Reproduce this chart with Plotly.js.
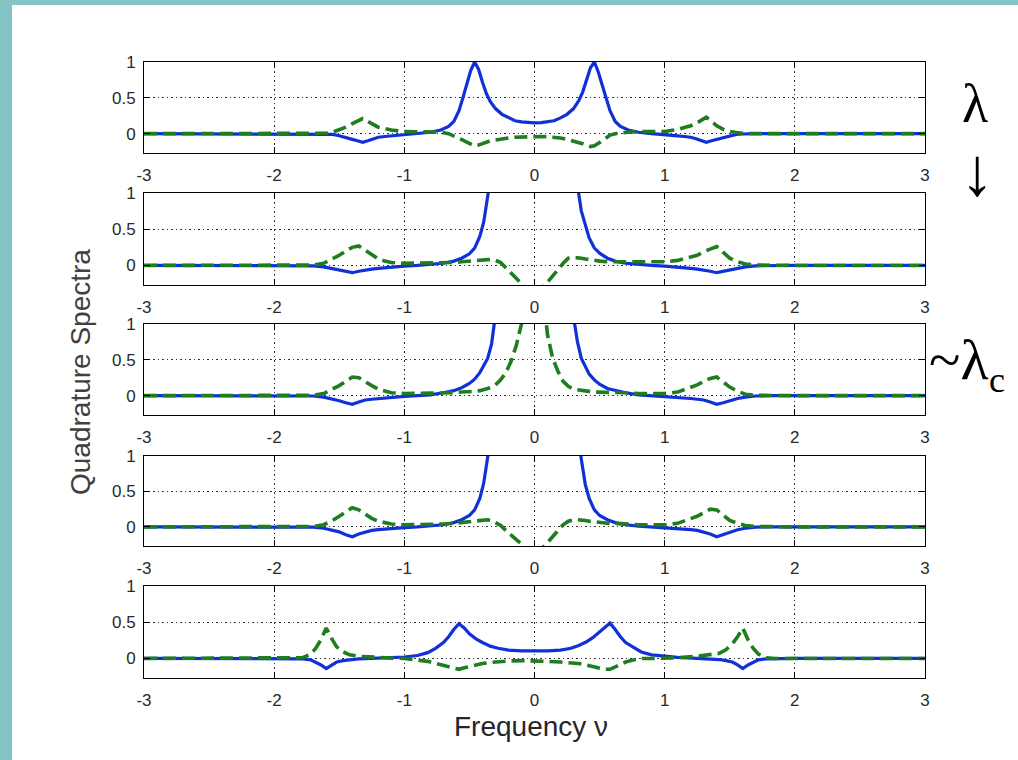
<!DOCTYPE html>
<html>
<head>
<meta charset="utf-8">
<script src="https://cdn.plot.ly/plotly-3.0.1.min.js"></script>
<style>
  html, body { margin: 0; padding: 0; background: #ffffff; }
  #chart { width: 1018px; height: 760px; }
</style>
</head>
<body>
<div id="chart"></div>
<script>
// ---------------- DATA ----------------
const xTickVals = [-3, -2, -1, 0, 1, 2, 3];
const xTickText = ["-3", "-2", "-1", "0", "1", "2", "3"];
const yTickVals = [0, 0.5, 1];
const yTickText = ["0", "0.5", "1"];

// Panel 1 (top)
const freq1 = [-3, -2.5, -2, -1.7, -1.6, -1.55, -1.5, -1.45, -1.4, -1.36, -1.32, -1.28, -1.24, -1.2, -1.15, -1.1, -1.0, -0.9, -0.8, -0.72, -0.66, -0.62, -0.58, -0.55, -0.52, -0.49, -0.46, -0.43, -0.40, -0.37, -0.34, -0.30, -0.25, -0.20, -0.15, -0.10, -0.05,
  0,
  0.05, 0.10, 0.15, 0.20, 0.25, 0.30, 0.34, 0.37, 0.40, 0.43, 0.46, 0.49, 0.52, 0.55, 0.58, 0.62, 0.66, 0.72, 0.8, 0.9, 1.0, 1.1, 1.15, 1.2, 1.24, 1.28, 1.32, 1.36, 1.4, 1.45, 1.5, 1.55, 1.6, 1.7, 2, 2.5, 3];
const blue1 = [0, 0, 0, 0, -0.005, -0.01, -0.03, -0.05, -0.08, -0.10, -0.12, -0.10, -0.07, -0.05, -0.04, -0.03, -0.01, 0.0, 0.02, 0.05, 0.10, 0.17, 0.32, 0.50, 0.70, 0.88, 1.0, 0.90, 0.72, 0.56, 0.45, 0.35, 0.27, 0.22, 0.18, 0.165, 0.155,
  0.15,
  0.155, 0.165, 0.18, 0.22, 0.27, 0.35, 0.46, 0.58, 0.75, 0.92, 1.0, 0.86, 0.68, 0.48, 0.32, 0.17, 0.10, 0.05, 0.02, 0.0, -0.01, -0.03, -0.04, -0.05, -0.07, -0.10, -0.12, -0.10, -0.08, -0.05, -0.03, -0.01, -0.005, 0, 0, 0, 0];
const green1 = [0, 0, 0, 0, 0.005, 0.02, 0.05, 0.09, 0.14, 0.18, 0.21, 0.17, 0.13, 0.09, 0.07, 0.05, 0.03, 0.03, 0.03, 0.02, 0.0, -0.03, -0.06, -0.09, -0.12, -0.15, -0.17, -0.16, -0.14, -0.12, -0.10, -0.09, -0.07, -0.06, -0.05, -0.045, -0.04,
  -0.04,
  -0.04, -0.045, -0.05, -0.06, -0.08, -0.10, -0.12, -0.14, -0.16, -0.18, -0.17, -0.14, -0.10, -0.06, -0.02, 0.0, 0.01, 0.02, 0.03, 0.03, 0.03, 0.06, 0.08, 0.11, 0.14, 0.18, 0.23, 0.17, 0.11, 0.06, 0.03, 0.015, 0.005, 0, 0, 0, 0];

// Panels 2-4 share one frequency grid
const freqMid = [-3, -2.5, -2, -1.8, -1.7, -1.62, -1.56, -1.5, -1.45, -1.4, -1.35, -1.3, -1.25, -1.2, -1.15, -1.1, -1.0, -0.9, -0.8, -0.7, -0.62, -0.56, -0.5, -0.46, -0.42, -0.39, -0.36, -0.33, -0.30, -0.26, -0.22, -0.18, -0.14, -0.10, -0.06, -0.03,
  0,
  0.03, 0.06, 0.10, 0.14, 0.18, 0.22, 0.26, 0.30, 0.33, 0.36, 0.39, 0.42, 0.46, 0.5, 0.56, 0.62, 0.7, 0.8, 0.9, 1.0, 1.1, 1.15, 1.2, 1.25, 1.3, 1.35, 1.4, 1.45, 1.5, 1.56, 1.62, 1.7, 1.8, 2, 2.5, 3];

// Panel 2
const blue2 = [0, 0, 0, 0, -0.005, -0.02, -0.04, -0.06, -0.08, -0.10, -0.08, -0.06, -0.05, -0.04, -0.03, -0.02, -0.01, 0.0, 0.01, 0.03, 0.06, 0.10, 0.16, 0.24, 0.40, 0.60, 0.95, 1.4, 2.0, 3.0, 4.0, 5.0, 5.5, 6, 6, 6,
  6,
  6, 6, 6, 5.5, 5.0, 4.0, 3.0, 2.0, 1.1, 0.75, 0.55, 0.38, 0.24, 0.17, 0.10, 0.06, 0.03, 0.01, 0.0, -0.01, -0.02, -0.03, -0.04, -0.05, -0.06, -0.08, -0.10, -0.08, -0.06, -0.04, -0.02, -0.005, 0, 0, 0, 0];
const green2 = [0, 0, 0, 0, 0.005, 0.03, 0.08, 0.14, 0.20, 0.25, 0.27, 0.21, 0.15, 0.09, 0.06, 0.04, 0.03, 0.03, 0.03, 0.04, 0.04, 0.05, 0.06, 0.07, 0.08, 0.08, 0.08, 0.08, 0.07, 0.04, -0.03, -0.10, -0.17, -0.23, -0.30, -0.38,
  -0.45,
  -0.38, -0.30, -0.23, -0.15, -0.06, 0.03, 0.10, 0.11, 0.11, 0.10, 0.09, 0.08, 0.07, 0.06, 0.05, 0.05, 0.05, 0.05, 0.05, 0.05, 0.07, 0.09, 0.11, 0.14, 0.19, 0.23, 0.26, 0.18, 0.10, 0.05, 0.02, 0.005, 0, 0, 0, 0];

// Panel 3 (~ lambda_c)
const blue3 = [0, 0, 0, 0, -0.005, -0.02, -0.04, -0.07, -0.10, -0.12, -0.09, -0.06, -0.05, -0.04, -0.03, -0.02, -0.01, 0.0, 0.01, 0.04, 0.07, 0.11, 0.17, 0.23, 0.32, 0.42, 0.52, 0.72, 1.1, 1.8, 3.0, 4.0, 5.0, 5.5, 6, 6,
  6,
  6, 6, 5.5, 5.0, 4.0, 3.0, 1.8, 1.1, 0.75, 0.52, 0.40, 0.30, 0.22, 0.16, 0.10, 0.07, 0.04, 0.01, 0.0, -0.01, -0.02, -0.03, -0.04, -0.05, -0.06, -0.09, -0.12, -0.10, -0.07, -0.04, -0.02, -0.005, 0, 0, 0, 0];
const green3 = [0, 0, 0, 0, 0.005, 0.03, 0.08, 0.14, 0.20, 0.26, 0.25, 0.19, 0.14, 0.09, 0.06, 0.04, 0.03, 0.03, 0.03, 0.04, 0.04, 0.05, 0.05, 0.06, 0.07, 0.08, 0.10, 0.12, 0.15, 0.22, 0.32, 0.48, 0.70, 1.0, 1.5, 2.2,
  2.5,
  2.2, 1.5, 0.85, 0.52, 0.34, 0.20, 0.13, 0.09, 0.08, 0.07, 0.06, 0.06, 0.05, 0.05, 0.04, 0.04, 0.04, 0.03, 0.03, 0.03, 0.05, 0.08, 0.11, 0.15, 0.20, 0.24, 0.26, 0.19, 0.12, 0.06, 0.02, 0.005, 0, 0, 0, 0];

// Panel 4
const blue4 = [0, 0, 0, 0, -0.005, -0.02, -0.04, -0.07, -0.11, -0.14, -0.10, -0.07, -0.05, -0.04, -0.03, -0.02, -0.01, 0.0, 0.01, 0.03, 0.06, 0.10, 0.16, 0.24, 0.40, 0.62, 0.98, 1.4, 2.0, 3.0, 4.0, 5.0, 5.5, 6, 6, 6,
  6,
  6, 6, 6, 5.5, 5.0, 4.0, 3.0, 2.0, 1.4, 0.95, 0.60, 0.40, 0.24, 0.16, 0.10, 0.06, 0.03, 0.01, 0.0, -0.01, -0.02, -0.03, -0.04, -0.05, -0.07, -0.10, -0.14, -0.11, -0.07, -0.04, -0.02, -0.005, 0, 0, 0, 0];
const green4 = [0, 0, 0, 0, 0.005, 0.03, 0.08, 0.15, 0.21, 0.27, 0.24, 0.18, 0.12, 0.08, 0.06, 0.04, 0.03, 0.03, 0.03, 0.04, 0.05, 0.06, 0.07, 0.08, 0.09, 0.10, 0.10, 0.09, 0.06, 0.02, -0.05, -0.12, -0.18, -0.24, -0.31, -0.38,
  -0.45,
  -0.38, -0.30, -0.22, -0.14, -0.06, 0.03, 0.08, 0.10, 0.10, 0.10, 0.09, 0.08, 0.07, 0.06, 0.05, 0.05, 0.04, 0.03, 0.03, 0.03, 0.05, 0.08, 0.11, 0.15, 0.20, 0.25, 0.24, 0.16, 0.09, 0.05, 0.02, 0.005, 0, 0, 0, 0];

// Panel 5 (bottom)
const freq5 = [-3, -2.5, -2, -1.85, -1.78, -1.72, -1.68, -1.64, -1.6, -1.56, -1.52, -1.47, -1.42, -1.35, -1.25, -1.1, -1.0, -0.9, -0.82, -0.76, -0.7, -0.66, -0.62, -0.58, -0.54, -0.5, -0.45, -0.4, -0.34, -0.28, -0.2, -0.1,
  0,
  0.1, 0.2, 0.28, 0.34, 0.4, 0.45, 0.5, 0.54, 0.58, 0.62, 0.66, 0.7, 0.76, 0.82, 0.9, 1.0, 1.1, 1.25, 1.35, 1.42, 1.47, 1.52, 1.56, 1.6, 1.64, 1.68, 1.72, 1.78, 1.85, 2, 2.5, 3];
const blue5 = [0, 0, 0, 0, -0.005, -0.02, -0.05, -0.09, -0.14, -0.09, -0.05, -0.03, -0.015, -0.005, 0.0, 0.01, 0.02, 0.04, 0.08, 0.14, 0.22, 0.30, 0.40, 0.48, 0.42, 0.34, 0.27, 0.22, 0.17, 0.14, 0.115, 0.105,
  0.10,
  0.105, 0.115, 0.14, 0.18, 0.23, 0.29, 0.37, 0.44, 0.49, 0.40, 0.30, 0.22, 0.15, 0.09, 0.05, 0.03, 0.015, 0.0, -0.005, -0.015, -0.03, -0.05, -0.09, -0.14, -0.09, -0.05, -0.02, -0.005, 0, 0, 0, 0];
const green5 = [0, 0, 0, 0, 0.01, 0.06, 0.14, 0.26, 0.42, 0.28, 0.16, 0.09, 0.05, 0.03, 0.015, 0.005, 0.0, -0.02, -0.04, -0.07, -0.10, -0.12, -0.14, -0.15, -0.13, -0.11, -0.09, -0.07, -0.055, -0.045, -0.035, -0.03,
  -0.03,
  -0.04, -0.05, -0.06, -0.07, -0.09, -0.11, -0.13, -0.15, -0.15, -0.12, -0.08, -0.05, -0.02, 0.0, 0.0, 0.0, 0.01, 0.03, 0.05, 0.07, 0.12, 0.20, 0.30, 0.42, 0.26, 0.14, 0.06, 0.01, 0, 0, 0, 0];

const panels = [
  {x: freq1, blue: blue1, green: green1},
  {x: freqMid, blue: blue2, green: green2},
  {x: freqMid, blue: blue3, green: green3},
  {x: freqMid, blue: blue4, green: green4},
  {x: freq5, blue: blue5, green: green5}
];

const yTitle = "Quadrature Spectra";
const xTitle = "Frequency \u03bd";
const sideLambda = "\u03bb";
const sideArrow = "\u2193";
const sideLambdaC = "~\u03bb";
const sideSub = "c";

// ---------------- LAYOUT ----------------
const W = 1018, H = 760;
const plotLeft = 144, plotRight = 925;
const panelPx = [[62, 153], [193, 285], [324, 415], [456, 546], [586, 678]];
const BLUE = "#1030d8";
const GREEN = "#1e7d1e";
const TEAL = "#84c4c4";
const SANS = "Liberation Sans, Arial, sans-serif";
const SERIF = "Liberation Serif, Times New Roman, serif";

const traces = [];
const layout = {
  width: W, height: H,
  margin: {l: 0, r: 0, t: 0, b: 0},
  paper_bgcolor: "#ffffff",
  plot_bgcolor: "#ffffff",
  showlegend: false,
  font: {family: SANS, color: "#222222"},
  shapes: [
    {type: "rect", xref: "paper", yref: "paper", x0: 0, x1: 12 / W, y0: 0, y1: 1, fillcolor: TEAL, line: {width: 0}, layer: "above"},
    {type: "rect", xref: "paper", yref: "paper", x0: 0, x1: 1, y0: 1 - 5 / H, y1: 1, fillcolor: TEAL, line: {width: 0}, layer: "above"}
  ],
  annotations: []
};

panels.forEach((p, i) => {
  const n = i === 0 ? "" : String(i + 1);
  const xa = "x" + n, ya = "y" + n;
  traces.push({
    x: p.x, y: p.blue, xaxis: xa, yaxis: ya, type: "scatter", mode: "lines",
    line: {color: BLUE, width: 3.2}, hoverinfo: "skip"
  });
  traces.push({
    x: p.x, y: p.green, xaxis: xa, yaxis: ya, type: "scatter", mode: "lines",
    line: {color: GREEN, width: 3.6, dash: "13px,6px"}, hoverinfo: "skip"
  });
  const common = {
    showline: true, linecolor: "#000000", linewidth: 1, mirror: "ticks",
    ticks: "inside", ticklen: 6, tickwidth: 1, tickcolor: "#000000",
    showgrid: true, gridcolor: "#333333", gridwidth: 1, griddash: "1.5px,3px",
    zeroline: false, fixedrange: true,
    tickfont: {family: SANS, size: 17, color: "#2a2a2a"}
  };
  layout["xaxis" + n] = Object.assign({}, common, {
    domain: [plotLeft / W, plotRight / W], anchor: ya,
    range: [-3, 3], tickmode: "array", tickvals: xTickVals, ticktext: xTickText,
    ticklabelstandoff: 7
  });
  layout["yaxis" + n] = Object.assign({}, common, {
    domain: [1 - panelPx[i][1] / H, 1 - panelPx[i][0] / H], anchor: xa,
    range: [-0.27, 1], tickmode: "array", tickvals: yTickVals, ticktext: yTickText,
    ticklabelstandoff: 4
  });
});

layout.annotations.push(
  {xref: "paper", yref: "paper", x: 80 / W, y: 1 - 372 / H, text: yTitle, textangle: -90, showarrow: false,
   xanchor: "center", yanchor: "middle", font: {family: SANS, size: 28, color: "#404040"}},
  {xref: "paper", yref: "paper", x: 531 / W, y: 1 - 726 / H, text: xTitle, showarrow: false,
   xanchor: "center", yanchor: "middle", font: {family: SANS, size: 28, color: "#262626"}},
  {xref: "paper", yref: "paper", x: 975 / W, y: 1 - 104 / H, text: sideLambda, showarrow: false,
   xanchor: "center", yanchor: "middle", font: {family: SERIF, size: 54, color: "#000000"}},
  {xref: "paper", yref: "paper", x: 977 / W, y: 1 - 172 / H, text: sideArrow, showarrow: false,
   xanchor: "center", yanchor: "middle", font: {family: SERIF, size: 68, color: "#000000"}},
  {xref: "paper", yref: "paper", x: 959 / W, y: 1 - 360 / H, text: sideLambdaC, showarrow: false,
   xanchor: "center", yanchor: "middle", font: {family: SERIF, size: 58, color: "#000000"}},
  {xref: "paper", yref: "paper", x: 997 / W, y: 1 - 380 / H, text: sideSub, showarrow: false,
   xanchor: "center", yanchor: "middle", font: {family: SERIF, size: 36, color: "#000000"}}
);

Plotly.newPlot("chart", traces, layout, {displayModeBar: false, staticPlot: true});
</script>
</body>
</html>
